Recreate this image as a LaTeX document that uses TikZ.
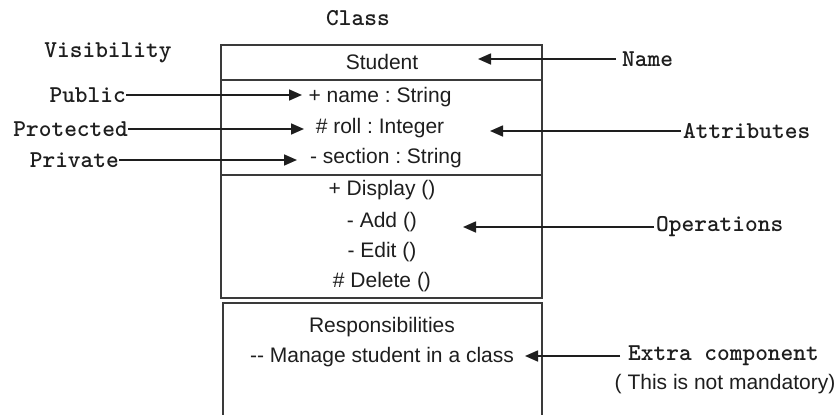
\documentclass[tikz,border=0pt]{standalone}
\usepackage{fontspec}
\setmainfont{Liberation Sans}
\newfontfamily\monob{lmmonolt10-bold.otf}
\usetikzlibrary{arrows.meta}
\definecolor{ink}{HTML}{1E1E1E}
\definecolor{boxc}{HTML}{3A3A3A}
\frenchspacing
\begin{document}
\begin{tikzpicture}[x=1pt,y=-1pt,
  lbl/.style={font=\monob\fontsize{24.2}{25}\selectfont, text=ink, inner sep=0pt},
  txt/.style={font=\fontsize{21}{22}\selectfont, text=ink, inner sep=0pt},
  arr/.style={draw=ink, line width=1.6pt, -{Triangle[length=13pt,width=11pt]}},
  boxline/.style={draw=boxc, line width=2pt}]
\useasboundingbox (0,0) rectangle (839,415);
\fill[white] (0,0) rectangle (839,415);

% class boxes
\draw[boxline] (221,45) rectangle (542,298);
\draw[boxline] (221,80) -- (542,80);
\draw[boxline] (221,175) -- (542,175);
\draw[boxline] (223,416) -- (223,303) -- (542,303) -- (542,416);

% headings
\node[lbl] (class) at (358,18) {Class};
\node[lbl] (vis) at (108,53) {Visibility};

% class texts
\node[txt] (student) at (382,62) {Student};
\node[txt] (aname) at (380,97) {+ name : String};
\node[txt] (aroll) at (380,128) {\# roll : Integer};
\node[txt] (asect) at (386,158) {- section : String};
\node[txt] (odisp) at (382,190) {+ Display ()};
\node[txt] (oadd) at (382,222) {- Add ()};
\node[txt] (oedit) at (382,252) {- Edit ()};
\node[txt] (odel) at (382,282) {\# Delete ()};
\node[txt] (resp) at (382,327) {Responsibilities};
\node[txt] (manage) at (382,357) {-{}- Manage student in a class};

% visibility labels
\node[lbl, anchor=east] (public) at (126,95) {Public};
\node[lbl, anchor=east] (protected) at (128,129) {Protected};
\node[lbl, anchor=east] (private) at (119,160) {Private};
\coordinate (tpub) at (302,95);
\coordinate (tpro) at (304,129);
\coordinate (tpri) at (297,160);
\draw[arr] (public.east) -- (tpub);
\draw[arr] (protected.east) -- (tpro);
\draw[arr] (private.east) -- (tpri);

% right labels
\node[lbl, anchor=west] (name) at (622,59) {Name};
\node[lbl, anchor=west] (attr) at (683,131) {Attributes};
\node[lbl, anchor=west] (ops) at (656,227) {Operations};
\node[lbl, anchor=west] (extra) at (628,356) {Extra component};
\node[txt] (mand) at (725,384) {( This is not mandatory)};
\coordinate (tname) at (478,59);
\coordinate (tattr) at (490,131);
\coordinate (tops) at (463,227);
\coordinate (textra) at (525,356);
\draw[arr] ([xshift=-6pt]name.west) -- (tname);
\draw[arr] ([xshift=-2pt]attr.west) -- (tattr);
\draw[arr] ([xshift=-2pt]ops.west) -- (tops);
\draw[arr] ([xshift=-8pt]extra.west) -- (textra);
\end{tikzpicture}
\end{document}
